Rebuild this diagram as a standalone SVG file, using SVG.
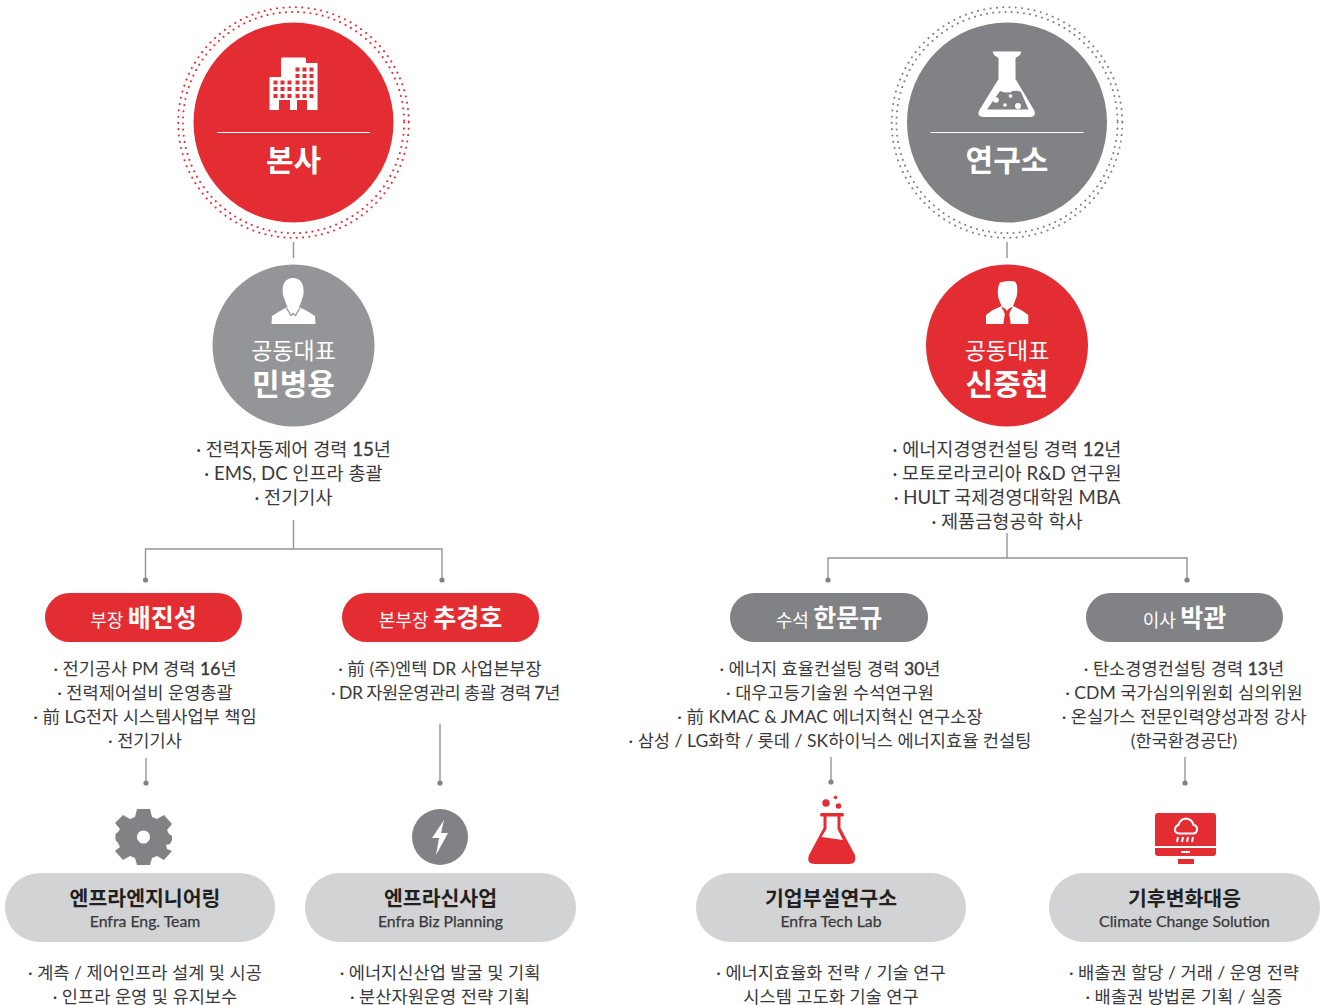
<svg xmlns="http://www.w3.org/2000/svg" width="1321" height="1005" viewBox="0 0 1321 1005">
<style>
text{font-family:"Lato","Noto Sans CJK KR","Noto Sans",sans-serif;text-anchor:middle}
.b{font-size:17.6px;fill:#3a3a3c}
.c{font-size:18.6px;fill:#3a3a3c}
.n{stroke:#3a3a3c;stroke-width:.4}
.t1{font-size:30px;font-weight:700;fill:#fff}
.r1{font-size:23px;fill:#fff}
.r2{font-size:30px;font-weight:700;fill:#fff}
.p1{font-size:18px;fill:#fff}
.p2{font-size:25px;font-weight:700;fill:#fff}
.h1{font-size:20.5px;font-weight:700;fill:#231f20}
.h2{font-size:15.8px;fill:#3a3a3c;stroke:#3a3a3c;stroke-width:.25}
.l{fill:none;stroke:#939598;stroke-width:1.4}
.d{fill:#808285}
.red{fill:#e32d32}.gr{fill:#808285}.pg{fill:#939598}.lp{fill:#d1d3d4}
.ring{fill:none;stroke-width:2;stroke-linecap:round}
</style>
<g id="connectors">
<path class="l" d="M293.500 242V258M293.500 520V549H145.500V580M293.500 549H442V580M1007 242V258M1007 533V558H828V580M1007 558H1187V580M146 758V785M440 724V783M831 757V782M1185 757V783"/>
<g class="d"><circle cx="145.500" cy="580" r="2.600"/><circle cx="442" cy="580" r="2.600"/><circle cx="828" cy="580" r="2.600"/><circle cx="1187" cy="580" r="2.600"/><circle cx="146" cy="783" r="2.600"/><circle cx="440" cy="783" r="2.600"/><circle cx="831" cy="782" r="2.600"/><circle cx="1185" cy="783" r="2.600"/></g>
</g>
<g id="hq">
<circle class="ring" cx="293.500" cy="122.500" r="115.300" stroke="#e32d32" stroke-dasharray="0.1 6.24"/>
<circle class="ring" cx="293.500" cy="122.500" r="110.600" stroke="#e32d32" stroke-dasharray="0.1 6.08"/>
<circle class="red" cx="293.500" cy="122.500" r="100"/>
<path fill="#fff" fill-rule="evenodd" d="M269.500 110V77H281V59Q281 57.500 282.500 57.500H305Q306 57.500 306 59V63H317.500V110H307V100H297V110H290V100H279V110ZM295.500 67.500h4v4h-4zM302.500 67.500h4v4h-4zM309.500 67.500h4v4h-4zM295.500 74h4v4h-4zM302.500 74h4v4h-4zM309.500 74h4v4h-4zM273.500 80.500h4v4h-4zM280.500 80.500h4v4h-4zM287.500 80.500h4v4h-4zM295.500 80.500h4v4h-4zM302.500 80.500h4v4h-4zM309.500 80.500h4v4h-4zM273.500 87h4v4h-4zM280.500 87h4v4h-4zM287.500 87h4v4h-4zM295.500 87h4v4h-4zM302.500 87h4v4h-4zM309.500 87h4v4h-4zM273.500 94h4v4h-4zM280.500 94h4v4h-4zM287.500 94h4v4h-4zM295.500 94h4v4h-4zM302.500 94h4v4h-4zM309.500 94h4v4h-4z"/>
<path d="M217 132.500H370" stroke="#fff" stroke-width="1"/>
<text class="t1" x="293.500" y="171">본사</text>
</g>
<g id="lab">
<circle class="ring" cx="1007" cy="122.500" r="115.300" stroke="#808285" stroke-dasharray="0.1 6.24"/>
<circle class="ring" cx="1007" cy="122.500" r="110.600" stroke="#808285" stroke-dasharray="0.1 6.08"/>
<circle class="gr" cx="1007" cy="122.500" r="100"/>
<path fill="#fff" fill-rule="evenodd" d="M992.500 51.500H1021.500L1020 55 1015.500 58V79L1034 110Q1037 117 1030 117H984Q976 117 979.500 110L998.500 79V58L994 55ZM1000 91Q1008 94 1013 91 1018 90 1021 92L1028.500 109.500H987Z"/>
<g fill="#fff"><circle cx="996" cy="100" r="2.800"/><circle cx="1010.500" cy="96" r="1.800"/><circle cx="1005" cy="105" r="1.800"/><circle cx="1018" cy="106" r="3"/></g>
<path d="M930.500 132.500H1083.500" stroke="#fff" stroke-width="1"/>
<text class="t1" x="1007" y="171">연구소</text>
</g>
<g id="ceo1">
<circle class="pg" cx="293.500" cy="345.500" r="81"/>
<path fill="#fff" d="M293 278C286 278 282.700 283 282.700 290 282.500 294 283.500 297 284.500 299 285.500 302 286.500 305 287.500 307L280 311 272 316 271.500 324H315.500L315 316 307 311 299 307C300 305 301.500 302 302 299 303 297 303.800 294 303.500 290 303.500 283 300 278 293 278Z"/>
<path fill="none" stroke="#939598" stroke-width="1.300" d="M286.500 308 291 315.500 293 313.500 295.500 315.500 300 308"/>
<text class="r1" x="293.500" y="359">공동대표</text>
<text class="r2" x="293.500" y="395">민병용</text>
</g>
<g id="ceo2">
<circle class="red" cx="1007" cy="345.500" r="81"/>
<path fill="#fff" d="M1000 282.500Q1007 280 1015 281.500 1017.500 284 1017.300 291 1017.300 296 1015.500 299.500 1014.500 303 1013 306L1022 310.500 1028.300 315V324H986V315L992 310.500 1001.500 306C1000.500 303 999 300 998.500 298 997.500 294 997.300 287 1000 282.500Z"/>
<path fill="#e32d32" d="M1001.500 306.500 1005.500 309 1007 311 1008.500 309 1012.500 306.500 1010 316 1011.500 324H1002.500L1004 316Z"/>
<path fill="#fff" d="M1002.500 308.500 1004.800 314 1003.300 324H1002V313Z M1011.500 308.500 1009.200 314 1010.700 324H1012V313Z"/>
<text class="r1" x="1007" y="359">공동대표</text>
<text class="r2" x="1007" y="395">신중현</text>
</g>
<g id="ceo1-text">
<text class="c" x="293.500" y="456">· 전력자동제어 경력 <tspan class="n">15</tspan>년</text>
<text class="c" x="293.500" y="480">· EMS, DC 인프라 총괄</text>
<text class="c" x="293.500" y="504">· 전기기사</text>
</g>
<g id="ceo2-text">
<text class="c" x="1007" y="456">· 에너지경영컨설팅 경력 <tspan class="n">12</tspan>년</text>
<text class="c" x="1007" y="480">· 모토로라코리아 R&amp;D 연구원</text>
<text class="c" x="1007" y="504">· HULT 국제경영대학원 MBA</text>
<text class="c" x="1007" y="528">· 제품금형공학 학사</text>
</g>
<g id="mgr1">
<rect class="red" x="45" y="593" width="197" height="49" rx="24.500"/>
<text x="143.500" y="627"><tspan class="p1">부장 </tspan><tspan class="p2">배진성</tspan></text>
<text class="b" x="145" y="674.500">· 전기공사 PM 경력 <tspan class="n">16</tspan>년</text>
<text class="b" x="145" y="698.500">· 전력제어설비 운영총괄</text>
<text class="b" x="145" y="722.500">· 前 LG전자 시스템사업부 책임</text>
<text class="b" x="145" y="746.500">· 전기기사</text>
</g>
<g id="mgr2">
<rect class="red" x="342" y="593" width="197" height="49" rx="24.500"/>
<text x="440.500" y="627"><tspan class="p1">본부장 </tspan><tspan class="p2">추경호</tspan></text>
<text class="b" x="440" y="674.500">· 前 (주)엔텍 DR 사업본부장</text>
<text class="b" x="445.500" y="698.500" letter-spacing="-0.55">· DR 자원운영관리 총괄 경력 <tspan class="n">7</tspan>년</text>
</g>
<g id="mgr3">
<rect class="gr" x="730" y="593" width="198" height="49" rx="24.500"/>
<text x="829" y="627"><tspan class="p1">수석 </tspan><tspan class="p2">한문규</tspan></text>
<text class="b" x="830" y="674.500">· 에너지 효율컨설팅 경력 <tspan class="n">30</tspan>년</text>
<text class="b" x="830" y="698.500">· 대우고등기술원 수석연구원</text>
<text class="b" x="830" y="722.500">· 前 KMAC &amp; JMAC 에너지혁신 연구소장</text>
<text class="b" x="830" y="746.500">· 삼성 / LG화학 / 롯데 / SK하이닉스 에너지효율 컨설팅</text>
</g>
<g id="mgr4">
<rect class="gr" x="1086" y="593" width="197" height="49" rx="24.500"/>
<text x="1184.500" y="627"><tspan class="p1">이사 </tspan><tspan class="p2">박관</tspan></text>
<text class="b" x="1184" y="674.500">· 탄소경영컨설팅 경력 <tspan class="n">13</tspan>년</text>
<text class="b" x="1184" y="698.500">· CDM 국가심의위원회 심의위원</text>
<text class="b" x="1184" y="722.500">· 온실가스 전문인력양성과정 강사</text>
<text class="b" x="1184" y="746.500">(한국환경공단)</text>
</g>
<g id="team1">
<path class="gr" fill-rule="evenodd" d="M137 809H150L152 817 157 819 164 815 172 824 167 830 169 834 172 836 172 840 170 844 166 845 167 849 172 851 164 860 157 856 152 858 150 865H137L135 858 130 856 123 860 115 851 120 847 118 843 115.500 840V834L118 832 120 829 115 823 123 815 130 819 135 817ZM143.500 830.500A6.500 6.500 0 1 0 143.501 830.500Z"/>
<rect class="lp" x="5" y="873" width="270" height="69" rx="34.500"/>
<text class="h1" x="145" y="906">엔프라엔지니어링</text>
<text class="h2" x="145" y="927">Enfra Eng. Team</text>
<text class="b" x="145" y="978.500">· 계측 / 제어인프라 설계 및 시공</text>
<text class="b" x="145" y="1002.500">· 인프라 운영 및 유지보수</text>
</g>
<g id="team2">
<circle class="gr" cx="440" cy="837" r="28"/>
<path fill="#fff" d="M444 820 432 838H439L436 855 448 833H441Z"/>
<rect class="lp" x="305" y="873" width="271" height="69" rx="34.500"/>
<text class="h1" x="440.500" y="906">엔프라신사업</text>
<text class="h2" x="440.500" y="927">Enfra Biz Planning</text>
<text class="b" x="440" y="978.500">· 에너지신산업 발굴 및 기획</text>
<text class="b" x="440" y="1002.500">· 분산자원운영 전략 기획</text>
</g>
<g id="team3">
<g class="red"><circle cx="826" cy="803" r="3.700"/><circle cx="835.500" cy="797.500" r="1.800"/><circle cx="838.500" cy="806" r="2.800"/></g>
<path class="red" fill-rule="evenodd" d="M821 813H843Q845 815 843 816.500H840.500V828L855 855Q857 864 849 864H815Q806 864 809 855L823.500 828V816.500H821Q819 815 821 813ZM826.500 816.500H837.500V829L843 840 821.500 837 826.500 829Z"/>
<rect class="lp" x="696" y="873" width="270" height="69" rx="34.500"/>
<text class="h1" x="831" y="906">기업부설연구소</text>
<text class="h2" x="831" y="927">Enfra Tech Lab</text>
<text class="b" x="831" y="978.500">· 에너지효율화 전략 / 기술 연구</text>
<text class="b" x="831" y="1002.500">시스템 고도화 기술 연구</text>
</g>
<g id="team4">
<path class="red" d="M1158 813H1213Q1216 813 1216 816V846H1155V816Q1155 813 1158 813ZM1155 848H1216V853Q1216 856 1213 856H1158Q1155 856 1155 853Z"/>
<rect class="red" x="1178" y="859" width="16" height="5"/>
<rect x="1181" y="851" width="9" height="2" fill="#fff"/>
<path fill="none" stroke="#fff" stroke-width="2" d="M1179 833.500H1193Q1197 833.500 1197 829 1197 825.500 1193.500 825 1192 819 1186 818.500 1180 819 1178.500 825 1175 826 1175 830 1175 833 1179 833.500Z"/>
<path stroke="#fff" stroke-width="2" d="M1177 842 1178 837M1182 842 1183 837M1187 842 1188 837M1192 842 1193 837"/>
<rect class="lp" x="1049" y="873" width="271" height="69" rx="34.500"/>
<text class="h1" x="1184.500" y="906">기후변화대응</text>
<text class="h2" x="1184.500" y="927">Climate Change Solution</text>
<text class="b" x="1184" y="978.500">· 배출권 할당 / 거래 / 운영 전략</text>
<text class="b" x="1184" y="1002.500">· 배출권 방법론 기획 / 실증</text>
</g>
</svg>
